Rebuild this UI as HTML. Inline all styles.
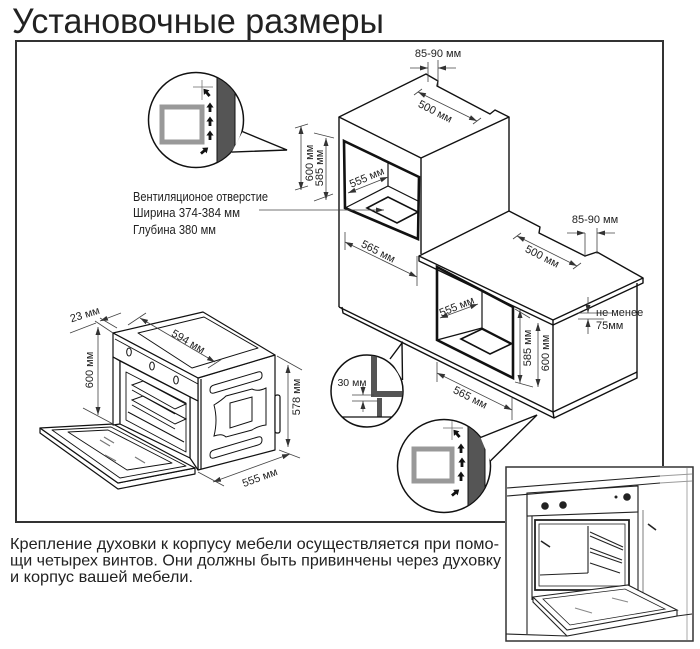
<!DOCTYPE html>
<html><head><meta charset="utf-8"><style>
html,body{margin:0;padding:0;background:#fff;}
svg{display:block;}
text{font-family:"Liberation Sans",sans-serif;fill:#222;}
</style></head><body>
<svg width="700" height="649" viewBox="0 0 700 649" xmlns="http://www.w3.org/2000/svg">
<defs>
<marker id="ar" markerUnits="userSpaceOnUse" markerWidth="8" markerHeight="6" refX="8" refY="3" orient="auto-start-reverse"><path d="M0,0.5 L8,3 L0,5.5 z" fill="#333"/></marker>
<path id="ua" d="M0,-5.5 L3.6,-0.5 L1.4,-0.5 L1.4,4 L-1.4,4 L-1.4,-0.5 L-3.6,-0.5 Z" fill="#111"/>
<clipPath id="c1"><circle cx="196" cy="120" r="47"/></clipPath>
<clipPath id="c2"><circle cx="444" cy="466" r="46"/></clipPath>
<clipPath id="c3"><circle cx="367" cy="391" r="35.5"/></clipPath>
</defs>

<!-- title -->
<text x="12" y="33" font-size="35" textLength="372" lengthAdjust="spacingAndGlyphs" style="fill:#222">Установочные размеры</text>

<!-- frame -->
<polyline points="663,466 663,41 16,41 16,522 505,522" fill="none" stroke="#333" stroke-width="2"/>

<g fill="none" stroke="#111" stroke-width="1.4" stroke-linejoin="round">
<!-- upper cabinet -->
<polygon points="339,117 426,74 438,81 437,86 490,114 495,110 509,117 421,158" fill="#fff"/>
<line x1="421" y1="158" x2="421" y2="254"/>
<line x1="509" y1="117" x2="509" y2="211"/>
<line x1="339" y1="117" x2="339" y2="307"/>
<!-- counter -->
<polygon points="419,256 509,211 540,227 539,233 585,256 597,252 643,278 553,320" fill="#fff"/>
<polyline points="419,256 419,261 553,325 643,283 643,278"/>
<line x1="553" y1="320" x2="553" y2="325"/>
<!-- lower cabinet -->
<line x1="553" y1="325" x2="553" y2="412"/>
<line x1="637" y1="283" x2="637" y2="372"/>
<!-- plinth -->
<polyline points="339,307 553,412 637,372"/>
<polyline points="342,307 343,313 554,418 637,378 637,372"/>
<line x1="553" y1="412" x2="554" y2="418"/>
</g>

<!-- upper oven opening -->
<g fill="none" stroke="#111">
<polygon points="344,141 419,177 418,239 345,208" stroke-width="2.6"/>
<line x1="388" y1="163" x2="388" y2="186" stroke-width="1.2"/>
<line x1="388" y1="186" x2="345" y2="208" stroke-width="1.2"/>
<line x1="388" y1="186" x2="418" y2="201" stroke-width="1.2"/>
<polygon points="367,208 388,197 418,212 397,223" stroke-width="1.6"/>
<!-- lower oven opening -->
<polygon points="437,267 513,307 513,378 437,340" stroke-width="2.6"/>
<line x1="482" y1="291" x2="482" y2="328" stroke-width="1.2"/>
<line x1="482" y1="328" x2="437" y2="340" stroke-width="1.2"/>
<line x1="482" y1="328" x2="513" y2="344" stroke-width="1.2"/>
<polygon points="461,339 482,329 511,344 490,354" stroke-width="1.6"/>
</g>

<!-- dimension lines (cabinets) -->
<g stroke="#444" stroke-width="0.8" fill="none">
<line x1="428" y1="62" x2="428" y2="82"/><line x1="438" y1="60" x2="438" y2="86"/>
<line x1="410" y1="68" x2="428" y2="68" marker-end="url(#ar)"/>
<line x1="456" y1="68" x2="438" y2="68" marker-end="url(#ar)"/>
<line x1="418" y1="92" x2="477" y2="121" marker-start="url(#ar)" marker-end="url(#ar)"/>
<line x1="414" y1="95" x2="422" y2="89"/><line x1="473" y1="124" x2="481" y2="118"/>
<line x1="301" y1="126" x2="301" y2="190" marker-start="url(#ar)" marker-end="url(#ar)"/>
<line x1="295" y1="128" x2="308" y2="124"/><line x1="295" y1="190" x2="308" y2="186"/>
<line x1="326" y1="138" x2="326" y2="200" marker-start="url(#ar)" marker-end="url(#ar)"/>
<line x1="314" y1="133" x2="334" y2="138"/><line x1="314" y1="201" x2="333" y2="194"/>
<line x1="259" y1="210" x2="384" y2="210" marker-end="url(#ar)"/>
<line x1="348" y1="193" x2="388" y2="177" marker-start="url(#ar)" marker-end="url(#ar)"/>
<line x1="345" y1="242" x2="417" y2="277" marker-start="url(#ar)" marker-end="url(#ar)"/>
<line x1="345" y1="232" x2="345" y2="250"/><line x1="417" y1="256" x2="417" y2="286"/>
<line x1="585" y1="233" x2="585" y2="257"/><line x1="597" y1="228" x2="597" y2="254"/>
<line x1="567" y1="233" x2="585" y2="233" marker-end="url(#ar)"/>
<line x1="615" y1="233" x2="597" y2="233" marker-end="url(#ar)"/>
<line x1="517" y1="236" x2="577" y2="266" marker-start="url(#ar)" marker-end="url(#ar)"/>
<line x1="513" y1="239" x2="521" y2="233"/><line x1="573" y1="269" x2="581" y2="263"/>
<line x1="440" y1="318" x2="478" y2="304" marker-start="url(#ar)" marker-end="url(#ar)"/>
<line x1="520" y1="310" x2="520" y2="383" marker-start="url(#ar)" marker-end="url(#ar)"/>
<line x1="515" y1="309" x2="530" y2="318"/><line x1="515" y1="382" x2="533" y2="387"/>
<line x1="538" y1="323" x2="538" y2="387" marker-start="url(#ar)" marker-end="url(#ar)"/>
<line x1="588" y1="297" x2="588" y2="313" marker-end="url(#ar)"/>
<line x1="588" y1="334" x2="588" y2="319" marker-end="url(#ar)"/>
<line x1="578" y1="313" x2="612" y2="313"/><line x1="578" y1="319" x2="604" y2="319"/>
<line x1="437" y1="373" x2="512" y2="410" marker-start="url(#ar)" marker-end="url(#ar)"/>
<line x1="437" y1="362" x2="437" y2="382"/><line x1="512" y1="398" x2="512" y2="420"/>
</g>

<!-- cabinet dim labels -->
<g font-size="11" text-anchor="middle" dominant-baseline="central">
<text x="438" y="54">85-90 мм</text>
<text transform="rotate(27 435 112)" x="435" y="112">500 мм</text>
<text transform="rotate(-90 310 163)" x="310" y="163">600 мм</text>
<text transform="rotate(-90 320 168)" x="320" y="168">585 мм</text>
<text transform="rotate(-23 367 178)" x="367" y="178">555 мм</text>
<text transform="rotate(27 378 252)" x="378" y="252">565 мм</text>
<text x="595" y="220">85-90 мм</text>
<text transform="rotate(27 542 257)" x="542" y="257">500 мм</text>
<text transform="rotate(-22 457 307)" x="457" y="307">555 мм</text>
<text transform="rotate(-90 528 348)" x="528" y="348">585 мм</text>
<text transform="rotate(-90 546 353)" x="546" y="353">600 мм</text>
<text transform="rotate(27 470 398)" x="470" y="398">565 мм</text>
</g>
<text x="596" y="316" font-size="11">не менее</text>
<text x="596" y="329" font-size="11">75мм</text>

<!-- vent text -->
<text x="133" y="201" font-size="12.5" textLength="135" lengthAdjust="spacingAndGlyphs">Вентиляционое отверстие</text>
<text x="133" y="217" font-size="12.5" textLength="107" lengthAdjust="spacingAndGlyphs">Ширина 374-384 мм</text>
<text x="133" y="234" font-size="12.5" textLength="83" lengthAdjust="spacingAndGlyphs">Глубина 380 мм</text>

<!-- circle 1 -->
<circle cx="196" cy="120" r="47.5" fill="#fff" stroke="#111" stroke-width="1.5"/>
<g clip-path="url(#c1)">
<rect x="217" y="60" width="18" height="120" fill="#555" stroke="#111" stroke-width="1"/>
<rect x="162" y="107" width="40" height="35" fill="#fff" stroke="#999" stroke-width="5"/>
<line x1="193" y1="87" x2="213" y2="87" stroke="#666" stroke-width="0.7"/>
<line x1="202" y1="80" x2="202" y2="100" stroke="#666" stroke-width="0.7"/>
</g>
<use href="#ua" transform="translate(207,93) rotate(-40)"/>
<use href="#ua" transform="translate(210,108)"/>
<use href="#ua" transform="translate(210,122)"/>
<use href="#ua" transform="translate(210,136)"/>
<use href="#ua" transform="translate(204,151) rotate(50)"/>
<path d="M242.6,131.6 L287,150 L231.7,152.1" fill="#fff" stroke="#111" stroke-width="1.4" stroke-linejoin="miter"/>

<!-- circle 3 (30mm) -->
<circle cx="367" cy="391" r="36" fill="#fff" stroke="#111" stroke-width="1.5"/>
<g clip-path="url(#c3)">
<rect x="371" y="350" width="6" height="47" fill="#555"/>
<rect x="371" y="391" width="40" height="6" fill="#555"/>
<rect x="377" y="398" width="5" height="19" fill="#555"/>
<line x1="325" y1="417" x2="410" y2="417" stroke="#111" stroke-width="1.3"/>
<line x1="352" y1="395" x2="374" y2="395" stroke="#444" stroke-width="0.7"/>
<line x1="352" y1="401" x2="378" y2="401" stroke="#444" stroke-width="0.7"/>
<line x1="363" y1="386" x2="363" y2="395" stroke="#444" stroke-width="0.7" marker-end="url(#ar)"/>
<line x1="363" y1="412" x2="363" y2="401" stroke="#444" stroke-width="0.7" marker-end="url(#ar)"/>
</g>
<text x="352" y="386" font-size="10.5" text-anchor="middle">30 мм</text>
<path d="M390,359 L402,343 L402.5,380" fill="#fff" stroke="#111" stroke-width="1.4"/>

<!-- circle 2 -->
<circle cx="444" cy="466" r="46.5" fill="#fff" stroke="#111" stroke-width="1.5"/>
<g clip-path="url(#c2)">
<rect x="468" y="410" width="17" height="115" fill="#555" stroke="#111" stroke-width="1"/>
<rect x="414" y="449" width="38" height="32" fill="#fff" stroke="#999" stroke-width="5"/>
<line x1="443" y1="428" x2="463" y2="428" stroke="#666" stroke-width="0.7"/>
<line x1="452" y1="421" x2="452" y2="440" stroke="#666" stroke-width="0.7"/>
</g>
<use href="#ua" transform="translate(457,434) rotate(-40)"/>
<use href="#ua" transform="translate(461,449)"/>
<use href="#ua" transform="translate(462,463)"/>
<use href="#ua" transform="translate(461,477)"/>
<use href="#ua" transform="translate(455,493) rotate(50)"/>
<path d="M480.5,437.5 L537,415 L490.3,461" fill="#fff" stroke="#111" stroke-width="1.4"/>

<!-- left oven -->
<g fill="#fff" stroke="#111" stroke-width="1.2" stroke-linejoin="round">
<polygon points="40,428 40,433 118,489 195,474 195,468 118,483"/>
<polygon points="40,428 113,424 195,468 118,483"/>
<polygon points="52,430 111,427 186,466 120,478" fill="none" stroke-width="0.9"/>
<polygon points="68,432 108,430 172,463 127,470" fill="none" stroke-width="0.9"/>
<polygon points="198,378 275,355 275,450 198,470"/>
<line x1="201" y1="379" x2="201" y2="469"/>
<rect x="275" y="395" width="5" height="38" rx="2"/>
<polygon points="113,333 203,312 275,355 198,378"/>
<polygon points="138,333 204,317 258,348 192,368" fill="none" stroke-width="1"/>
<polygon points="113,333 198,378 198,401 113,357"/>
<line x1="115" y1="339" x2="198" y2="384" stroke-width="0.9"/>
<polygon points="113,357 120,361 120,424 113,425"/>
<polygon points="190,397 198,401 198,470 190,458"/>
<polygon points="120,361 190,397 190,458 120,424" fill="#fff"/>
<polygon points="126,372 186,403 186,452 126,420" fill="none" stroke-width="0.9"/>
</g>
<g fill="none" stroke="#111" stroke-width="1">
<ellipse cx="129" cy="352" rx="2.3" ry="4"/>
<ellipse cx="152" cy="366" rx="2.3" ry="4"/>
<ellipse cx="176" cy="380" rx="2.3" ry="4"/>
<polygon points="132,385 143,381 186,404 175,409"/>
<polygon points="132,400 143,396 186,419 175,424"/>
<line x1="132" y1="390" x2="175" y2="414"/>
<line x1="132" y1="405" x2="175" y2="429"/>
<line x1="128" y1="412" x2="184" y2="442"/>
<path d="M214,385 L258,372 Q262,371 262,375 L262,376 Q262,379 258,380 L214,393 Q210,394 210,390 Q210,386 214,385 Z"/>
<path d="M214,450 L258,437 Q262,436 262,440 Q262,444 258,445 L214,458 Q210,459 210,455 Q210,451 214,450 Z"/>
<path d="M214,405 Q222,400 226,396 L252,389 Q258,392 266,388 L266,425 Q258,426 252,430 L226,437 Q222,433 214,436 Q218,420 214,405 Z"/>
<polygon points="230,403 252,397 252,421 230,428"/>
</g>
<g stroke="#777" stroke-width="1.2">
<line x1="100" y1="440" x2="110" y2="446"/><line x1="104" y1="437" x2="114" y2="443"/>
<line x1="105" y1="455" x2="116" y2="461"/><line x1="135" y1="457" x2="145" y2="463"/>
</g>

<!-- left oven dims -->
<g stroke="#444" stroke-width="0.8" fill="none">
<line x1="70" y1="333" x2="96" y2="323"/>
<line x1="121" y1="313" x2="100" y2="321" marker-end="url(#ar)"/>
<line x1="95" y1="321" x2="113" y2="333"/>
<line x1="100" y1="318" x2="117" y2="328"/>
<line x1="140" y1="318" x2="215" y2="362" marker-start="url(#ar)" marker-end="url(#ar)"/>
<line x1="128" y1="325" x2="146" y2="313"/><line x1="208" y1="368" x2="222" y2="359"/>
<line x1="98" y1="327" x2="98" y2="415" marker-start="url(#ar)" marker-end="url(#ar)"/>
<line x1="83" y1="408" x2="113" y2="424"/>
<line x1="288" y1="365" x2="288" y2="447" marker-start="url(#ar)" marker-end="url(#ar)"/>
<line x1="277" y1="356" x2="302" y2="370"/><line x1="279" y1="450" x2="300" y2="458"/>
<line x1="213" y1="482" x2="290" y2="454" marker-start="url(#ar)" marker-end="url(#ar)"/>
<line x1="198" y1="472" x2="224" y2="486"/>
</g>
<g font-size="11" text-anchor="middle" dominant-baseline="central">
<text transform="rotate(-17 85 315)" x="85" y="315">23 мм</text>
<text transform="rotate(30 188 342)" x="188" y="342">594 мм</text>
<text transform="rotate(-90 90 370)" x="90" y="370">600 мм</text>
<text transform="rotate(-90 297 397)" x="297" y="397">578 мм</text>
<text transform="rotate(-20 260 478)" x="260" y="478">555 мм</text>
</g>

<!-- inset photo -->
<rect x="506" y="467" width="187" height="174" fill="#fff" stroke="#333" stroke-width="1.5"/>
<line x1="687" y1="468" x2="687" y2="640" stroke="#aaa" stroke-width="1"/>
<g fill="none" stroke="#222" stroke-width="1.1">
<line x1="507" y1="488" x2="660" y2="476"/>
<line x1="507" y1="496" x2="660" y2="483"/>
<line x1="660" y1="476" x2="692" y2="474" stroke="#999"/>
<line x1="660" y1="483" x2="692" y2="481" stroke="#999"/>
<line x1="527" y1="493" x2="527" y2="634"/>
<line x1="532" y1="516" x2="532" y2="600"/>
<polygon points="527,493 638,486 638,512 527,516"/>
<line x1="638" y1="486" x2="638" y2="595"/>
<line x1="643" y1="510" x2="643" y2="600" stroke="#888"/>
<rect x="535" y="520" width="94" height="70" stroke-width="1.8"/>
<rect x="539" y="524" width="86" height="62" stroke-width="0.8"/>
<line x1="588" y1="526" x2="588" y2="573"/>
<line x1="588" y1="573" x2="540" y2="575"/>
<line x1="590" y1="532" x2="623" y2="547"/><line x1="590" y1="536" x2="623" y2="550"/>
<line x1="590" y1="548" x2="622" y2="560"/><line x1="590" y1="552" x2="622" y2="563"/>
<line x1="590" y1="563" x2="620" y2="573"/>
<polygon points="533,597 628,585 677,610 567,630" fill="#fff"/>
<polyline points="533,597 533,602 567,636 677,616 677,610"/>
<polygon points="543,599 625,589 665,609 570,625" stroke-width="0.8"/>
<line x1="506" y1="634" x2="567" y2="636"/>
<line x1="677" y1="616" x2="692" y2="614"/>
</g>
<g fill="#222">
<circle cx="545" cy="506" r="3.8"/><circle cx="563" cy="505" r="3.8"/>
<circle cx="627" cy="497" r="3.8"/><circle cx="616" cy="497" r="1.5"/>
</g>
<g stroke="#222" stroke-width="1.6">
<line x1="541" y1="541" x2="550" y2="547"/>
<line x1="648" y1="524" x2="656" y2="530"/>
</g>
<g stroke="#888" stroke-width="1">
<line x1="575" y1="608" x2="592" y2="613"/><line x1="612" y1="598" x2="628" y2="602"/>
</g>

<!-- bottom text -->
<g font-size="16" style="fill:#222">
<text x="10" y="549" textLength="489" lengthAdjust="spacingAndGlyphs">Крепление духовки к корпусу мебели осуществляется при помо-</text>
<text x="10" y="565.5" textLength="491" lengthAdjust="spacingAndGlyphs">щи четырех винтов. Они должны быть привинчены через духовку</text>
<text x="10" y="582" textLength="183" lengthAdjust="spacingAndGlyphs">и корпус вашей мебели.</text>
</g>
</svg>
</body></html>
